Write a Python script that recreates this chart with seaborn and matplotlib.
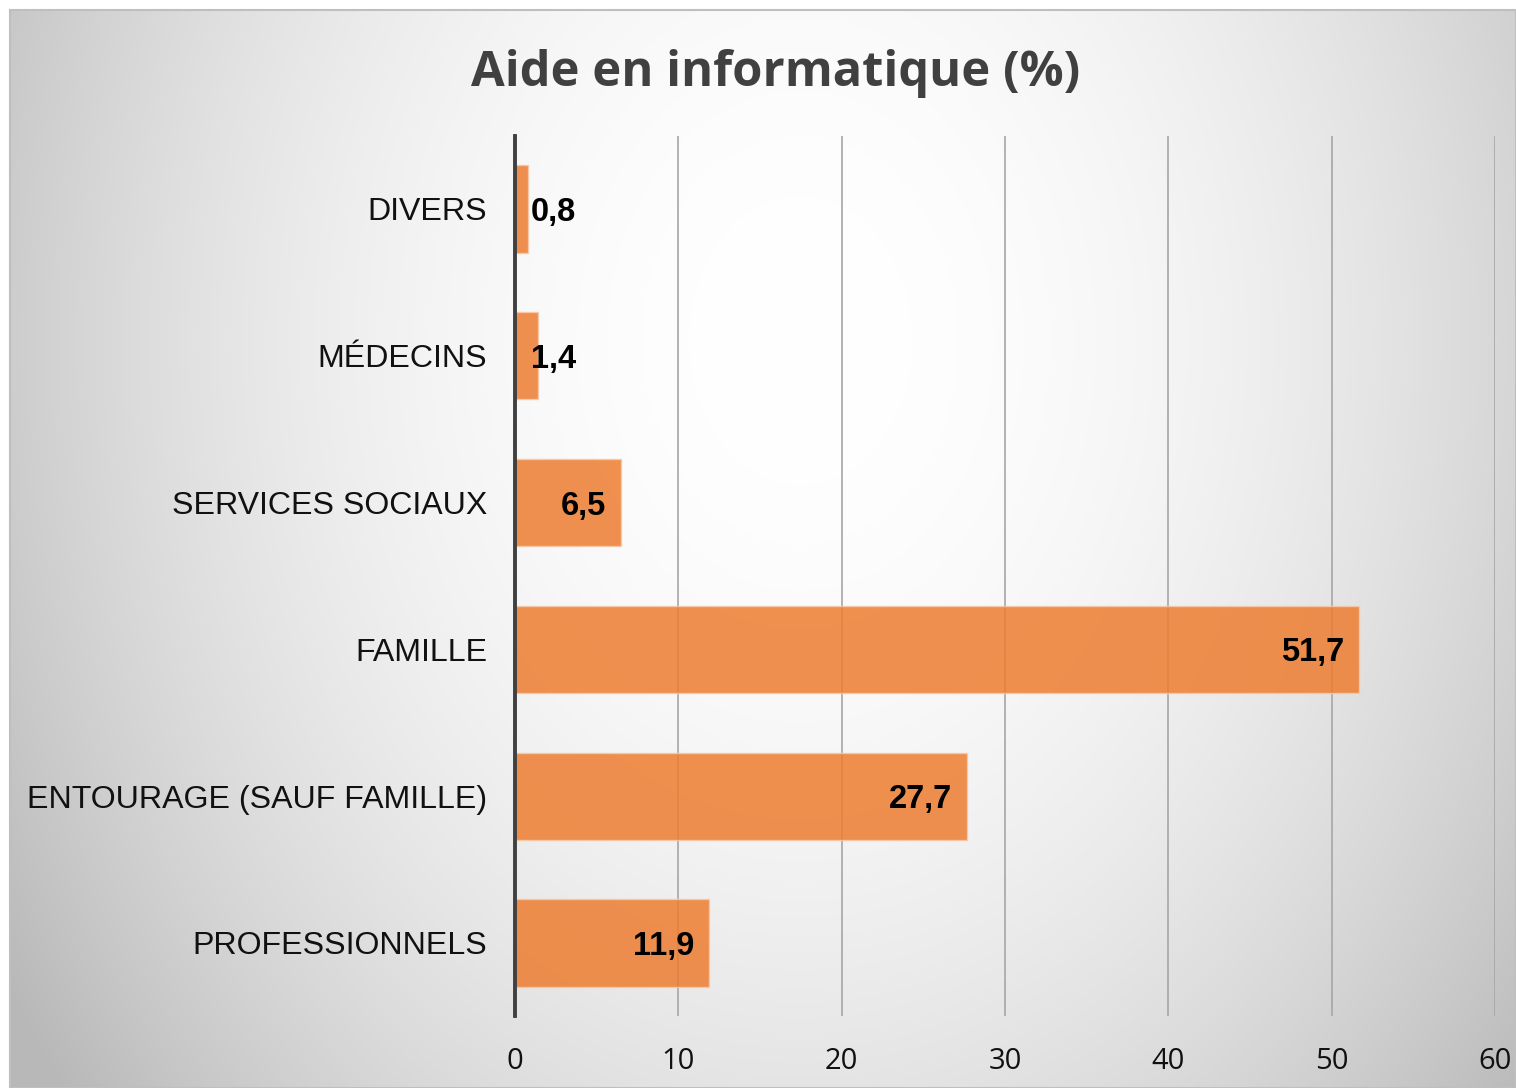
import numpy as np
import seaborn as sns
import matplotlib.pyplot as plt

# Données (de haut en bas)
categories = ['DIVERS', 'MÉDECINS', 'SERVICES SOCIAUX', 'FAMILLE',
              'ENTOURAGE (SAUF FAMILLE)', 'PROFESSIONNELS']
valeurs = [0.8, 1.4, 6.5, 51.7, 27.7, 11.9]
etiquettes = ['0,8', '1,4', '6,5', '51,7', '27,7', '11,9']
ticks_x = [0, 10, 20, 30, 40, 50, 60]

sns.set_style('white')
plt.rcParams['font.family'] = ['Liberation Sans', 'DejaVu Sans']

W, H = 1516, 1088
fig = plt.figure(figsize=(W / 100, H / 100), dpi=100)
fig.patch.set_facecolor('white')

# Fond dégradé radial (style Excel)
bg = fig.add_axes([10 / W, 0, (W - 10) / W, (H - 10) / H])
xx, yy = np.meshgrid(np.arange(10, W), np.arange(10, H))
d = np.sqrt(((xx - 800) / 850) ** 2 + ((yy - 340) / 1100) ** 2)
g = 255 - 58 * np.clip(d, 0, 1.1) ** 2
img = np.dstack([g, g, g]) / 255
bg.imshow(img, aspect='auto', extent=[0, 1, 0, 1], origin='upper')
bg.set_xticks([])
bg.set_yticks([])
for s in bg.spines.values():
    s.set_color('#bfbfbf')
    s.set_linewidth(1.5)

ax = fig.add_axes([515 / W, 1 - 1016.4 / H, 980 / W, 880.8 / H])
ax.patch.set_alpha(0)

sns.barplot(x=valeurs, y=categories, orient='h', color='#ED7D31', saturation=1,
            alpha=0.85, width=0.593, edgecolor='#f7c9a8', linewidth=1, ax=ax)

ax.set_xlim(0, 60)
ax.set_xticks(ticks_x)
ax.set_xticklabels([str(t) for t in ticks_x], fontfamily='Open Sans', fontsize=21)
ax.tick_params(axis='x', length=0, pad=22, colors='#111111')
ax.tick_params(axis='y', length=0, pad=20, labelsize=23.1, colors='#111111')
ax.set_xlabel('')
ax.set_ylabel('')
ax.grid(axis='x', color='#a6a6a6', linewidth=1.2)
ax.set_axisbelow(True)
for s in ['top', 'right', 'bottom']:
    ax.spines[s].set_visible(False)
ax.spines['left'].set_color('#404040')
ax.spines['left'].set_linewidth(2.8)
ax.spines['left'].set_zorder(5)

# Étiquettes de valeurs
for i, (v, lab) in enumerate(zip(valeurs, etiquettes)):
    if v < 4:
        ax.annotate(lab, (0, i), xytext=(11.5, -2.5), textcoords='offset points',
                    ha='left', va='center', fontsize=23.5, fontweight='bold', color='black')
    else:
        ax.annotate(lab, (v, i), xytext=(-11, -2.5), textcoords='offset points',
                    ha='right', va='center', fontsize=23.5, fontweight='bold', color='black')

fig.text(776 / W, 1 - 73 / H, 'Aide en informatique (%)', ha='center', va='center',
         fontfamily='Open Sans', fontweight='bold', fontsize=35.2, color='#404040')

fig.savefig('out.png', dpi=100)
